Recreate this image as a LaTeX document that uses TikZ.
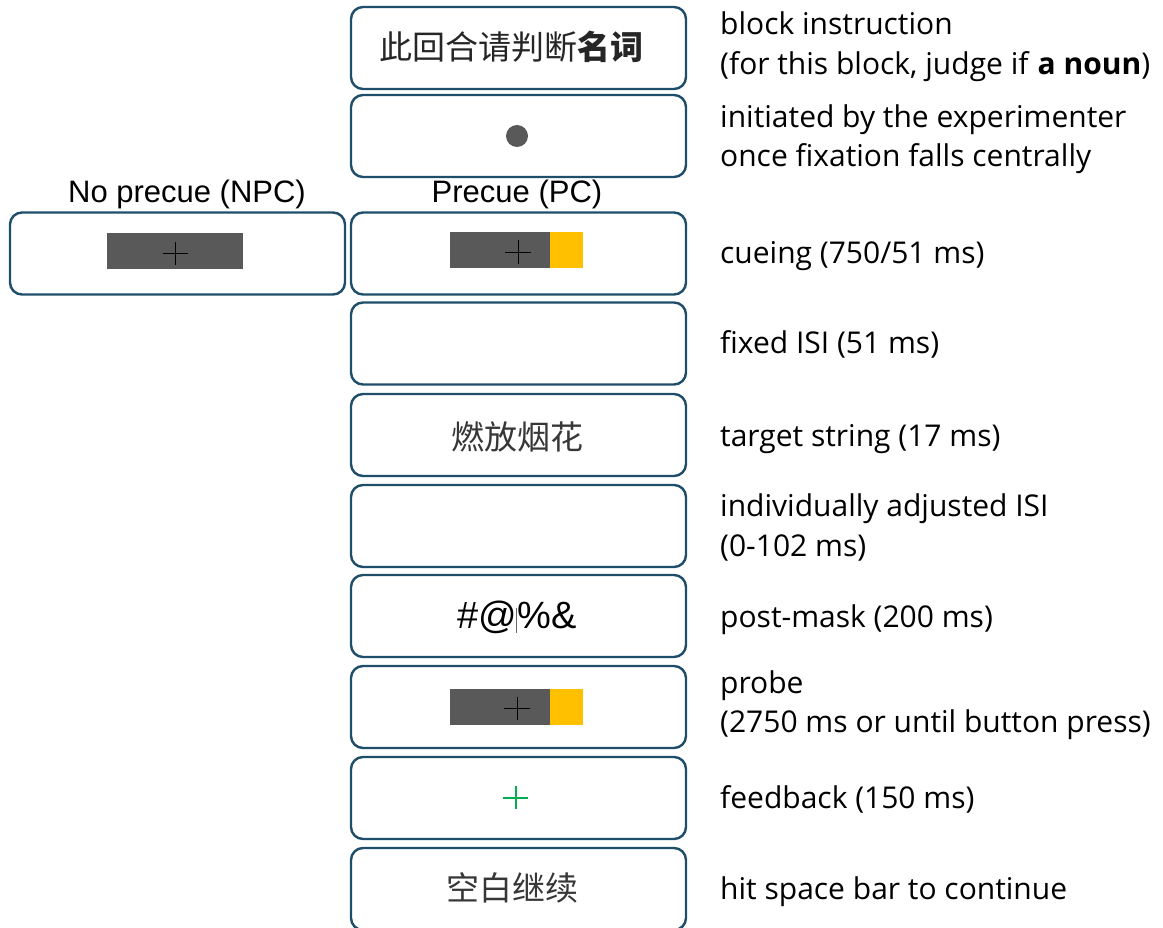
\documentclass[tikz,border=0pt]{standalone}
\usepackage{fontspec}
\setmainfont{Open Sans}
\newfontfamily\arialf{Liberation Sans}
\newfontfamily\cjk{Noto Sans CJK SC}
\definecolor{boxc}{RGB}{30,78,106}
\definecolor{barg}{RGB}{89,89,89}
\definecolor{cueyel}{RGB}{255,192,0}
\definecolor{fbgreen}{RGB}{0,176,80}
\definecolor{cjkgray}{RGB}{55,55,55}
\begin{document}
\begin{tikzpicture}[x=1pt,y=-1pt,
  trial/.style={draw=boxc,line width=2.4pt,rounded corners=12pt,minimum width=335pt,minimum height=82pt,inner sep=0pt,fill=white},
  desc/.style={anchor=base west,inner sep=0pt,font=\fontsize{30}{34}\selectfont},
  cond/.style={inner sep=0pt,font=\arialf\fontsize{31}{34}\selectfont},
  cjktext/.style={font=\cjk\fontsize{33}{38}\selectfont,text=cjkgray},
  bar/.style={fill=barg,draw=none,inner sep=0pt,minimum height=36pt},
  crossl/.style={line width=0.8pt,draw=black}
]
\useasboundingbox (0,0) rectangle (1163,928);

% trial boxes
\node[trial] (b1) at (518.5,48) {};
\node[trial] (b2) at (518.5,136) {};
\node[trial] (b3) at (518.5,253.5) {};
\node[trial] (npc) at (177.5,253.5) {};
\node[trial] (b4) at (518.5,343.5) {};
\node[trial] (b5) at (518.5,435) {};
\node[trial] (b6) at (518.5,526) {};
\node[trial] (b7) at (518.5,616) {};
\node[trial] (b8) at (518.5,707) {};
\node[trial] (b9) at (518.5,798) {};
\node[trial] (b10) at (518.5,889) {};

% condition labels
\node[cond] (lnpc) at (187,194) {No precue (NPC)};
\node[cond] (lpc) at (517,194) {Precue (PC)};

% box contents
\node[font=\cjk\fontsize{33}{38}\selectfont,text=black!85] (t1) at (511,47) {此回合请判断\textbf{名词}};
\node[circle,fill=barg,inner sep=0pt,minimum size=22pt] (dot) at (517,136) {};

\node[bar,minimum width=136pt] (npcbar) at (175,251.5) {};
\draw[crossl] (163,253) -- (188,253) (175.5,242) -- (175.5,265);

\node[bar,minimum width=100pt] (pcbar) at (500,250) {};
\node[bar,fill=cueyel,minimum width=33pt,anchor=west] (pcyel) at (pcbar.east) {};
\draw[crossl] (505,252) -- (531,252) (518,240) -- (518,264);

\node[cjktext] (t5) at (517,437) {燃放烟花};

\node[font=\arialf\fontsize{38}{42}\selectfont] (mask) at (517,617) {\#@\%\&};
\draw[black!60,line width=0.6pt] (516,608) -- (516,633);

\node[bar,minimum width=100pt] (prbar) at (500,707) {};
\node[bar,fill=cueyel,minimum width=33pt,anchor=west] (pryel) at (prbar.east) {};
\draw[crossl] (504,708.5) -- (530,708.5) (517,697) -- (517,720);

\node[inner sep=0pt,minimum size=1pt] (fbc) at (515.5,797.5) {};
\draw[draw=fbgreen,line width=2pt] ([xshift=-12.5pt]fbc.center) -- ([xshift=12.5pt]fbc.center);
\draw[draw=fbgreen,line width=2pt] ([yshift=-11.5pt]fbc.center) -- ([yshift=11.5pt]fbc.center);

\node[cjktext] (t10) at (512,888) {空白继续};

% descriptions
\node[desc] (d1a) at (720,35) {block instruction};
\node[desc] (d1b) at (720,75) {(for this block, judge if \textbf{a noun})};
\node[desc] (d2a) at (720,128) {initiated by the experimenter};
\node[desc] (d2b) at (720,167) {once fixation falls centrally};
\node[desc] (d3) at (720,264) {cueing (750/51 ms)};
\node[desc] (d4) at (720,353) {fixed ISI (51 ms)};
\node[desc] (d5) at (720,446) {target string (17 ms)};
\node[desc] (d6a) at (720,516) {individually adjusted ISI};
\node[desc] (d6b) at (720,556) {(0-102 ms)};
\node[desc] (d7) at (720,627) {post-mask (200 ms)};
\node[desc] (d8a) at (720,693) {probe};
\node[desc] (d8b) at (720,732) {(2750 ms or until button press)};
\node[desc] (d9) at (720,808) {feedback (150 ms)};
\node[desc] (d10) at (720,899) {hit space bar to continue};
\end{tikzpicture}
\end{document}
